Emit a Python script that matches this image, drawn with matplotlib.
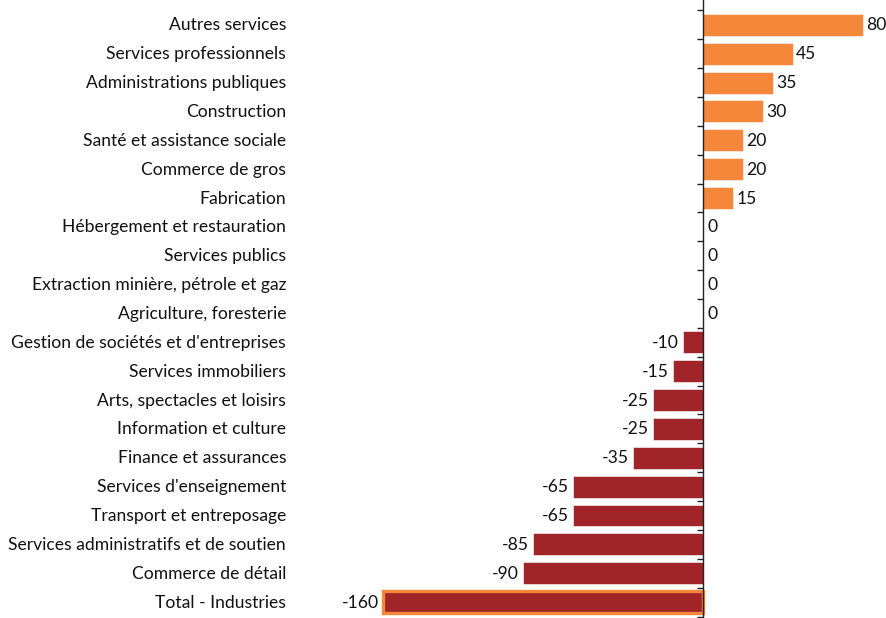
import matplotlib
matplotlib.use("Agg")
import matplotlib.pyplot as plt

categories = [
    "Autres services",
    "Services professionnels",
    "Administrations publiques",
    "Construction",
    "Santé et assistance sociale",
    "Commerce de gros",
    "Fabrication",
    "Hébergement et restauration",
    "Services publics",
    "Extraction minière, pétrole et gaz",
    "Agriculture, foresterie",
    "Gestion de sociétés et d'entreprises",
    "Services immobiliers",
    "Arts, spectacles et loisirs",
    "Information et culture",
    "Finance et assurances",
    "Services d'enseignement",
    "Transport et entreposage",
    "Services administratifs et de soutien",
    "Commerce de détail",
    "Total - Industries",
]
values = [80, 45, 35, 30, 20, 20, 15, 0, 0, 0, 0,
          -10, -15, -25, -25, -35, -65, -65, -85, -90, -160]

ORANGE = "#F5873A"
RED = "#A02428"

plt.rcParams['font.family'] = ['Lato', 'DejaVu Sans']
FS = 12.6
TXT = "#111111"

W, H = 886, 618
fig = plt.figure(figsize=(W / 100, H / 100), dpi=100)
zero_px = 703
scale = 2.0  # px per unit
left_px, right_px = 300, 886
ax = fig.add_axes([left_px / W, 0, (right_px - left_px) / W, 1])
ax.set_xlim((left_px - zero_px) / scale, (right_px - zero_px) / scale)
n = len(categories)
top_px, bot_px = 10.5, 619.5
step = (bot_px - top_px) / n
ax.set_ylim(n - 0.5 - (H - bot_px) / step, -0.5 - top_px / step)

base_off = 5.5 / step  # baseline offset below centre (data units)
gap = 1.6

for i, (c, v) in enumerate(zip(categories, values)):
    if c.startswith("Total"):
        ax.barh(i, v, height=0.76, color=RED, edgecolor=ORANGE, linewidth=2.4, zorder=2)
    else:
        col = ORANGE if v >= 0 else RED
        ax.barh(i, v, height=0.76, color=col, edgecolor="white", linewidth=0.4, zorder=2)
    yb = i + base_off
    if v > 0:
        ax.text(v + gap, yb, f"{v}", va="baseline", ha="left", fontsize=FS, color=TXT)
    elif v == 0:
        ax.text(gap + 0.6, yb, "0", va="baseline", ha="left", fontsize=FS, color=TXT)
    else:
        ax.text(v - 2.2, yb, f"{v}", va="baseline", ha="right", fontsize=FS, color=TXT)
    ax.text((286 - zero_px) / scale, yb, c, va="baseline", ha="right", fontsize=FS,
            color=TXT, clip_on=False)

for s in ["top", "right", "bottom"]:
    ax.spines[s].set_visible(False)
ax.spines['left'].set_position(('data', 0))
ax.spines['left'].set_color("#222222")
ax.spines['left'].set_linewidth(1.0)
ax.set_xticks([])
ax.set_yticks([i - 0.5 for i in range(n + 1)])
ax.set_yticklabels([])
ax.tick_params(axis='y', direction='out', length=4, width=1.0, color="#222222")

fig.savefig("out.png", dpi=100)
